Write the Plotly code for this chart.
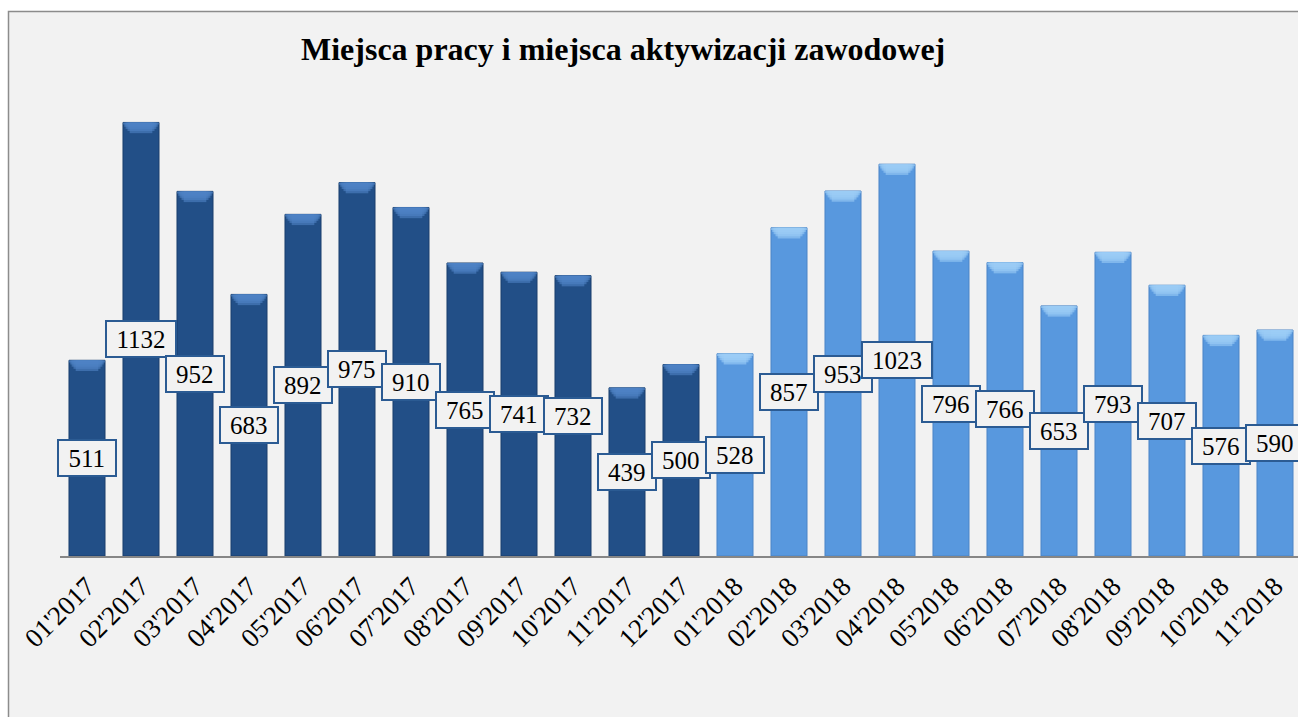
import plotly.graph_objects as go

categories_2017 = ["01'2017", "02'2017", "03'2017", "04'2017", "05'2017", "06'2017",
                   "07'2017", "08'2017", "09'2017", "10'2017", "11'2017", "12'2017"]
values_2017 = [511, 1132, 952, 683, 892, 975, 910, 765, 741, 732, 439, 500]
categories_2018 = ["01'2018", "02'2018", "03'2018", "04'2018", "05'2018", "06'2018",
                   "07'2018", "08'2018", "09'2018", "10'2018", "11'2018"]
values_2018 = [528, 857, 953, 1023, 796, 766, 653, 793, 707, 576, 590]
title_text = "Miejsca pracy i miejsca aktywizacji zawodowej"

W, H = 1298, 717
ML, MR, MT, MB = 60, 0, 100, 161
PW, PH = W - ML - MR, H - MT - MB
Y_MAX = PH / 0.383

def px_x(p):
    return (p - ML) / PW

def px_y(p):
    return (H - MB - p) / PH

FONT = "Liberation Serif, Times New Roman, serif"
DARK, DARK_CAP, DARK_EDGE = "#224f87", "#4f83c6", "#1a3f6d"
LIGHT, LIGHT_CAP, LIGHT_EDGE = "#5898de", "#9ccdf6", "#4a84c6"
BAR_W = 0.667
CAP = 28  # visual bevel height in data units

fig = go.Figure()

for cats, vals, col, cap, edge in [
    (categories_2017, values_2017, DARK, DARK_CAP, DARK_EDGE),
    (categories_2018, values_2018, LIGHT, LIGHT_CAP, LIGHT_EDGE),
]:
    fig.add_trace(go.Bar(x=cats, y=vals, width=BAR_W, marker=dict(color=col, line=dict(color=edge, width=1)),
                         showlegend=False, hoverinfo="x+y"))
    # bevel cap approximated with stepped layers
    for frac_h, frac_w in [(1.0, 0.42), (0.8, 0.50), (0.6, 0.57), (0.4, 0.62), (0.2, 0.667)]:
        h = CAP * frac_h
        fig.add_trace(go.Bar(x=cats, y=[h] * len(vals), base=[v - h for v in vals], width=frac_w,
                             marker=dict(color=cap, line=dict(width=0)), opacity=0.6,
                             showlegend=False, hoverinfo="skip"))

annotations = []
for cats, vals in [(categories_2017, values_2017), (categories_2018, values_2018)]:
    for c, v in zip(cats, vals):
        txt = str(v)
        annotations.append(dict(
            x=c, y=v / 2, xref="x", yref="y", text=txt, showarrow=False,
            font=dict(family=FONT, size=25, color="#000000"),
            bgcolor="#f2f2f2", bordercolor="#2b5b93", borderwidth=2, borderpad=0,
            width=12.5 * len(txt) + 18, height=34, xanchor="center", yanchor="middle"))

annotations.append(dict(
    x=px_x(623), y=px_y(49), xref="paper", yref="paper", text="<b>" + title_text + "</b>",
    showarrow=False, font=dict(family=FONT, size=32, color="#000000"),
    xanchor="center", yanchor="middle"))

fig.update_layout(
    width=W, height=H,
    margin=dict(l=ML, r=MR, t=MT, b=MB, pad=0),
    paper_bgcolor="#ffffff",
    plot_bgcolor="rgba(0,0,0,0)",
    barmode="overlay",
    annotations=annotations,
    shapes=[dict(type="rect", xref="paper", yref="paper",
                 x0=px_x(8.5), x1=px_x(1320), y0=px_y(740), y1=px_y(11.5),
                 fillcolor="#f2f2f2", line=dict(color="#8c8c8c", width=1.5), layer="below")],
    xaxis=dict(
        type="category",
        categoryorder="array", categoryarray=categories_2017 + categories_2018,
        range=[-0.5, 22.5 - 4 / 54],
        showline=True, linecolor="#868686", linewidth=1.5,
        ticks="", tickangle=-45, ticklabelstandoff=2,
        tickfont=dict(family=FONT, size=27, color="#000000"),
        showgrid=False, zeroline=False,
    ),
    yaxis=dict(range=[0, Y_MAX], visible=False, showgrid=False, zeroline=False),
)

fig.write_html("out.html", config={"displayModeBar": False},
               post_script="document.body.style.margin='0';document.body.style.overflow='hidden';")
